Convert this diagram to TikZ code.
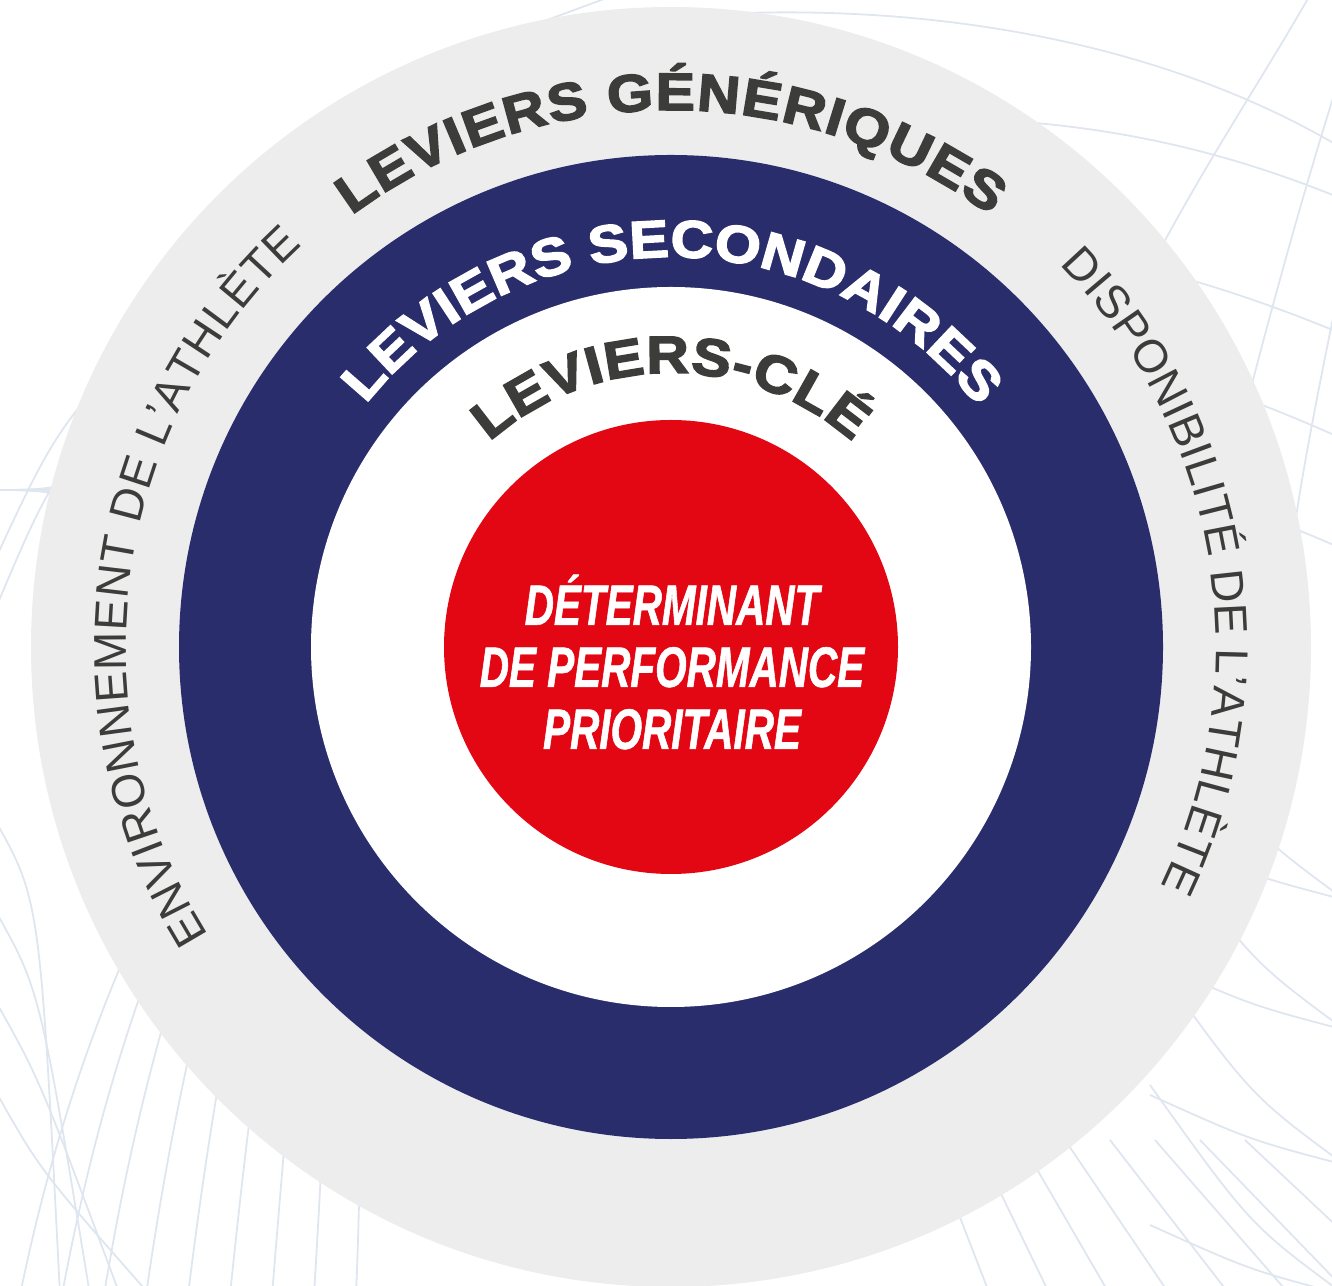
\documentclass[tikz,border=0pt]{standalone}
\usepackage{fontspec}
\usetikzlibrary{decorations.text}
\newfontfamily\ringfont{Liberation Sans}[FakeStretch=1.12, FakeBold=3]
\newfontfamily\sidefont{Liberation Sans}
\newfontfamily\centerfont{Liberation Sans}[FakeStretch=0.71, FakeBold=1]
\definecolor{navy}{HTML}{292D6B}
\definecolor{rred}{HTML}{E30613}
\definecolor{ringgray}{HTML}{EDEDED}
\definecolor{darktext}{HTML}{3C3C3B}
\definecolor{bgline}{HTML}{DFE6F0}
\newcommand{\fring}{\ringfont\bfseries\fontsize{26.3}{26}\selectfont}
\newcommand{\fside}{\sidefont\fontsize{23}{23}\selectfont}
\newcommand{\fcenter}{\centerfont\bfseries\itshape\fontsize{28.5}{31}\selectfont}
\begin{document}
\begin{tikzpicture}[x=0.5pt,y=0.5pt,
  bglines/.style={draw=bgline, line width=0.9pt},
  arctext/.style={decorate, decoration={text along path, text align={fit to path}, #1}}]
\path[use as bounding box] (0,0) rectangle (1332,1285);
\coordinate (C) at (671,638);
% background decorative lines (y-down pixel coordinates)
\begin{scope}
\clip (0,0) rectangle (1332,1285);
\begin{scope}[yshift=642.5pt, yscale=-1, bglines]
\draw (700,15) .. controls (950,0) and (1180,50) .. (1345,150);
\draw (850,120) .. controls (1050,110) and (1200,140) .. (1345,200);
\draw (1000,240) .. controls (1150,260) and (1260,300) .. (1345,335);
\draw (1100,350) .. controls (1200,380) and (1280,410) .. (1345,440);
\draw (1180,490) .. controls (1250,510) and (1300,530) .. (1345,550);
\draw (1310,-5) .. controls (1250,100) and (1180,200) .. (1120,330);
\draw (1345,60) .. controls (1300,200) and (1260,350) .. (1230,470);
\draw (1345,260) .. controls (1320,380) and (1300,480) .. (1290,560);
\draw (520,30) -- (615,-5);
\foreach \yy in {900,1030,1165,1295}{
  \draw (1345,\yy) .. controls (1250,\yy-70) .. (1150,\yy-210);
  \draw (1345,\yy) .. controls (1250,\yy-25) .. (1150,\yy-70);
}
\foreach \i in {0,...,7}{
  \draw (930+45*\i,1140) -- (990+60*\i,1295);
}
\foreach \i in {0,...,8}{
  \draw (20+42*\i,1295) .. controls (60+38*\i,1100) and (120+30*\i,950) .. (200+20*\i,800);
}
\foreach \i in {0,...,3}{
  \draw (-5,820+90*\i) .. controls (40,900+90*\i) .. (60+30*\i,1295);
}
\foreach \yy in {300,360,...,720}{
  \draw (-5,490) .. controls (90,490) .. (260,\yy);
}
\draw (-5,560) .. controls (60,420) .. (200,280);
\draw (-5,610) .. controls (50,480) .. (150,360);
\end{scope}
\end{scope}
% rings
\fill[ringgray] (C) circle[radius=640];
\fill[navy] (C) circle[radius=492];
\fill[white] (C) circle[radius=360];
\fill[rred] (C) circle[radius=227];
% curved texts
\path[arctext={text={|\fring|LEVIERS GÉNÉRIQUES}, text color=darktext}]
  (C) ++(126.5:537) arc[start angle=126.5, end angle=53.5, radius=537];
\path[arctext={text={|\fring|LEVIERS SECONDAIRES}, text color=white}]
  (C) ++(141.5:390) arc[start angle=141.5, end angle=38, radius=390];
\path[arctext={text={|\fring|LEVIERS-CLÉ}, text color=darktext}]
  (C) ++(131.5:274) arc[start angle=131.5, end angle=48.5, radius=274];
\path[arctext={text={|\fside|ENVIRONNEMENT DE L’ATHLÈTE}, text color=darktext}]
  (C) ++(212:545) arc[start angle=212, end angle=132.5, radius=545];
\path[arctext={text={|\fside|DISPONIBILITÉ DE L’ATHLÈTE}, text color=darktext}]
  (C) ++(44.5:545) arc[start angle=44.5, end angle=-26, radius=545];
% centre
\node[text=white, align=center, font=\fcenter, inner sep=0pt] (core) at (672,623)
  {DÉTERMINANT\\DE PERFORMANCE\\PRIORITAIRE};
\end{tikzpicture}
\end{document}
